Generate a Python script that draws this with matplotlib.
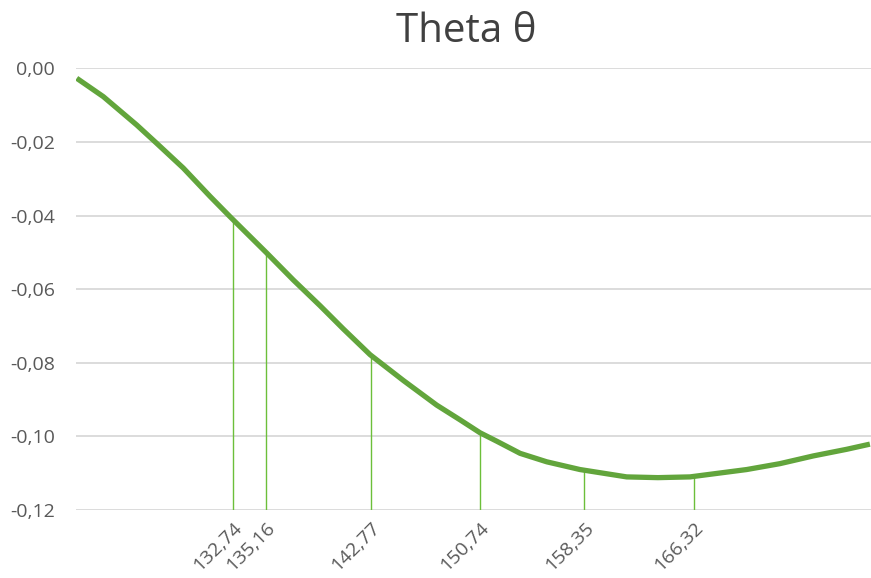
import numpy as np
import matplotlib.pyplot as plt

plt.rcParams['font.family'] = ['Open Sans', 'DejaVu Sans']

# theta curve
theta_x = [121.38, 123.32, 125.75, 127.21, 129.14, 131.09, 132.54, 135.22,
           137.15, 139.10, 140.79, 142.74, 145.16, 147.59, 149.29, 150.74,
           151.96, 153.66, 155.60, 158.02, 161.42, 163.70, 166.03, 170.16,
           172.58, 175.01, 177.44, 179.13]
theta_y = [-0.0027, -0.0077, -0.0154, -0.0204, -0.0271, -0.0348, -0.0403,
           -0.0502, -0.0575, -0.0645, -0.0708, -0.0778, -0.0848, -0.0915,
           -0.0955, -0.0990, -0.1013, -0.1046, -0.1069, -0.1090, -0.1110,
           -0.1112, -0.1110, -0.1090, -0.1074, -0.1053, -0.1035, -0.1021]

# marked points with drop lines
mark_x = [132.74, 135.16, 142.77, 150.74, 158.35, 166.32]
mark_labels = ['132,74', '135,16', '142,77', '150,74', '158,35', '166,32']

y_ticks = [0.0, -0.02, -0.04, -0.06, -0.08, -0.10, -0.12]
y_labels = ['0,00', '-0,02', '-0,04', '-0,06', '-0,08', '-0,10', '-0,12']

fig = plt.figure(figsize=(8.71, 5.78), dpi=100)
ax = fig.add_axes([0.0873, 0.1176, 0.9127, 0.7642])

ax.set_xlim(121.33, 179.21)
ax.set_ylim(-0.12, 0.0)

mark_y = np.interp(mark_x, theta_x, theta_y)
ax.vlines(mark_x, -0.12, mark_y, color='#6cbf3a', linewidth=1.0, zorder=2)

ax.plot(theta_x, theta_y, color='#62a53c', linewidth=3.8,
        solid_capstyle='butt', solid_joinstyle='round', zorder=3)

ax.set_yticks(y_ticks)
ax.set_yticklabels(y_labels)
ax.set_xticks(mark_x)
ax.set_xticklabels(mark_labels, rotation=45, ha='right', rotation_mode='anchor')
ax.tick_params(axis='both', length=0, labelsize=14, colors='#595959')
ax.tick_params(axis='y', pad=15)
ax.tick_params(axis='x', pad=6)

ax.grid(axis='y', color='#d9d9d9', linewidth=1.3)
ax.set_axisbelow(True)
for s in ax.spines.values():
    s.set_visible(False)

fig.text(0.535, 0.945, 'Theta θ', ha='center', va='center',
         fontsize=29, color='#404040')

fig.savefig('out.png', dpi=100)
